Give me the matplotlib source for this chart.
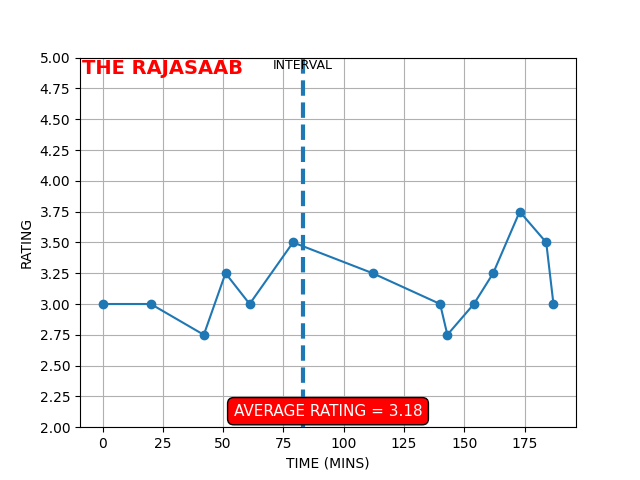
import matplotlib
matplotlib.use("Agg")
import matplotlib.pyplot as plt
import numpy as np

# minutes into the movie and the rating at that point
time_mins = [0, 20, 42, 51, 61, 79, 112, 140, 143, 154, 162, 173, 184, 187]
ratings = [3.0, 3.0, 2.75, 3.25, 3.0, 3.5, 3.25, 3.0, 2.75, 3.0, 3.25, 3.75, 3.5, 3.0]
interval_time = 83
movie_name = "THE RAJASAAB"
avg_label = "AVERAGE RATING = 3.18"

fig, ax = plt.subplots(figsize=(6.4, 4.8), dpi=100)
ax.plot(time_mins, ratings, marker='o')
ax.axvline(interval_time, linestyle='--', linewidth=3)
ax.set_ylim(2, 5)
ax.set_yticks(np.arange(2, 5.01, 0.25))
ax.set_xlabel('TIME (MINS)')
ax.set_ylabel('RATING')
ax.grid(True)

ax.text(-8.5, 4.91, movie_name, color='red', fontsize=14, fontweight='bold', va='center')
ax.text(interval_time, 4.935, 'INTERVAL', fontsize=9, ha='center', va='center')
ax.text(93.5, 2.13, avg_label, color='white', fontsize=11, ha='center', va='center',
        bbox=dict(boxstyle='round,pad=0.4', facecolor='red', edgecolor='black'))

plt.savefig('out.png')
